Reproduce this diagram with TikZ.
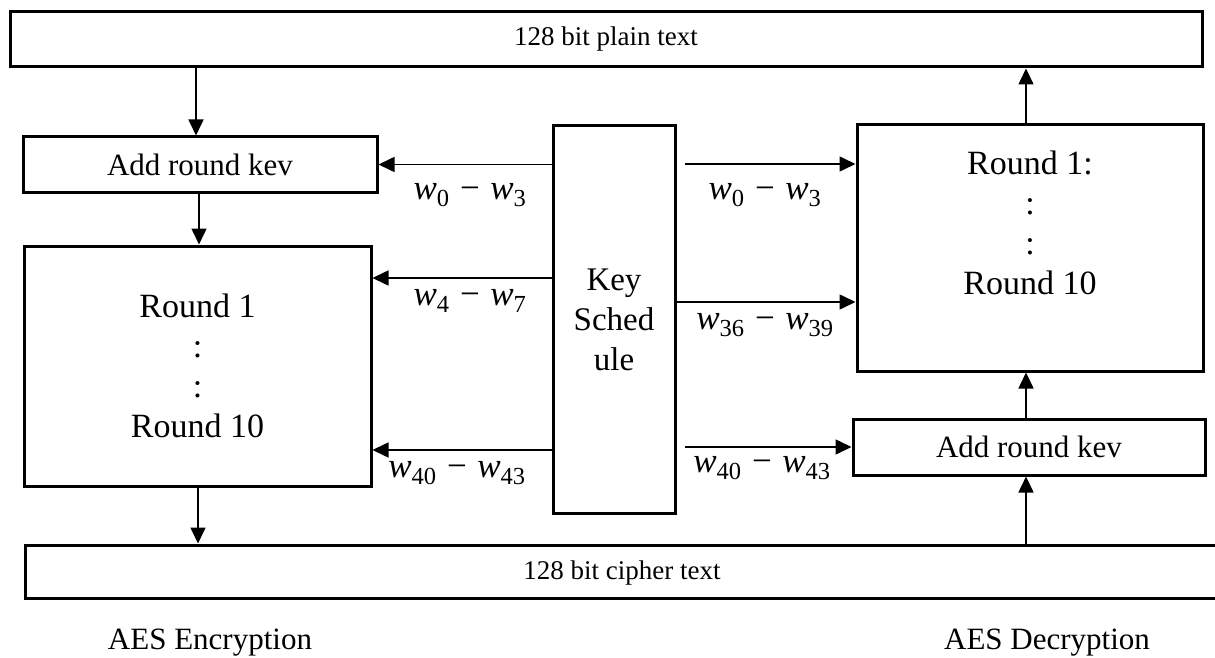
\documentclass[tikz,border=0pt]{standalone}
\usepackage{fontspec}
\setmainfont{Liberation Serif}
\usetikzlibrary{arrows.meta}
\newcommand{\wlab}[2]{\textit{w}\textsubscript{#1}\hspace{0.3em}−\hspace{0.3em}\textit{w}\textsubscript{#2}}
\begin{document}
\begin{tikzpicture}[x=1pt,y=-1pt,
  box/.style={draw=black, line width=3pt, fill=white, inner sep=0pt, align=center},
  arr/.style={draw=black, line width=1.6pt, -{Triangle[length=16pt,width=15pt]}},
  txt/.style={inner sep=0pt, align=center},
  wl/.style={inner sep=0pt, font=\fontsize{35}{38}\selectfont}]
\useasboundingbox (0,0) rectangle (1215,658);
% boxes
\node[box, minimum width=1192pt, minimum height=55pt, font=\fontsize{27}{30}\selectfont] (top) at (606,39.5) {128 bit plain text};
\node[box, minimum width=354pt, minimum height=55pt, font=\fontsize{31}{34}\selectfont] (akL) at (200,164.5) {Add round kev};
\node[box, minimum width=347pt, minimum height=240pt, font=\fontsize{34}{40}\selectfont] (rL) at (197.5,366) {Round 1\\:\\:\\Round 10};
\node[box, minimum width=122pt, minimum height=387pt, font=\fontsize{33}{40}\selectfont] (ks) at (614,319.5) {Key\\Sched\\ule};
\node[box, minimum width=346pt, minimum height=246pt] (rR) at (1030,248) {};
\node[txt, font=\fontsize{34}{40}\selectfont] (rRt) at ([yshift=25pt]rR.center) {Round 1:\\:\\:\\Round 10};
\node[box, minimum width=352pt, minimum height=56pt, font=\fontsize{31}{34}\selectfont] (akR) at (1029,447) {Add round kev};
\node[box, minimum width=1205pt, minimum height=53pt, font=\fontsize{27}{30}\selectfont] (bot) at (627.5,571.5) {};
\node[txt, font=\fontsize{27}{30}\selectfont] (bott) at (622,573) {128 bit cipher text};
% captions
\node[txt, font=\fontsize{31}{34}\selectfont] (encl) at (210,643) {AES Encryption};
\node[txt, font=\fontsize{31}{34}\selectfont] (decl) at (1047,643) {AES Decryption};
% vertical arrows
\draw[arr] (top.south -| 196,0) -- (akL.north -| 196,0);
\draw[arr] (akL.south -| 199,0) -- (rL.north -| 199,0);
\draw[arr] (rL.south -| 198,0) -- (bot.north -| 198,0);
\draw[arr] (bot.north -| 1026,0) -- (akR.south -| 1026,0);
\draw[arr] (akR.north -| 1026,0) -- (rR.south -| 1026,0);
\draw[arr] (rR.north -| 1026,0) -- (top.south -| 1026,0);
% key schedule arrows (left)
\draw[arr] (ks.west |- akL.east) -- (akL.east);
\draw[arr] (ks.west |- 0,278) -- (rL.east |- 0,278);
\draw[arr] (ks.west |- 0,450) -- (rL.east |- 0,450);
% key schedule arrows (right)
\draw[arr, shorten <=8pt] (ks.east |- 0,164) -- (rR.west |- 0,164);
\draw[arr] (ks.east |- 0,302) -- (rR.west |- 0,302);
\draw[arr, shorten <=8pt] (ks.east |- akR.west) -- (akR.west);
% labels
\node[wl] (l1) at (470,195) {\wlab{0}{3}};
\node[wl] (l2) at (470,301) {\wlab{4}{7}};
\node[wl] (l3) at (457,473) {\wlab{40}{43}};
\node[wl] (r1) at (765,195) {\wlab{0}{3}};
\node[wl] (r2) at (765,325) {\wlab{36}{39}};
\node[wl] (r3) at (762,468) {\wlab{40}{43}};
\end{tikzpicture}
\end{document}
